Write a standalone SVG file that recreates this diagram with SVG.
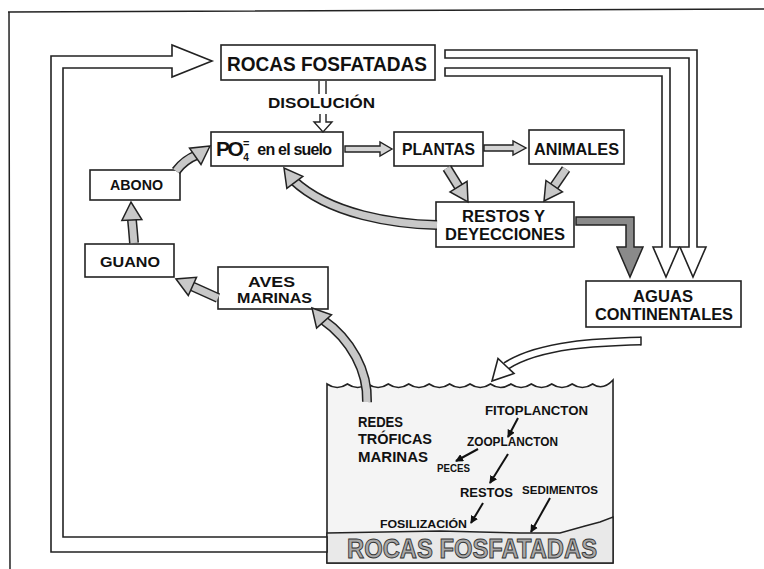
<svg xmlns="http://www.w3.org/2000/svg" width="764" height="569" viewBox="0 0 764 569">
<defs>
<style>
.box{fill:#fff;stroke:#222;stroke-width:1.6}
.t{font-family:"Liberation Sans",Arial,sans-serif;font-weight:bold;fill:#111}
.gOut{fill:none;stroke:#222;stroke-width:10}
.gIn{fill:none;stroke:#c8c8c8;stroke-width:7}
.gHead{fill:#c8c8c8;stroke:#222;stroke-width:1.5;stroke-linejoin:miter}
.hol{fill:#fff;stroke:#222;stroke-width:1.6;stroke-linejoin:miter}
.holg{fill:#d4d4d4;stroke:#222;stroke-width:1.4}
.sm{stroke:#111;stroke-width:2;fill:none;marker-end:url(#ah)}
</style>
<marker id="ah" markerUnits="userSpaceOnUse" markerWidth="8" markerHeight="8" refX="7" refY="4" orient="auto">
<polygon points="0,0 8,4 0,8" fill="#111"/>
</marker>
<polygon id="gh" points="0,0 -18,-10 -18,10"/>
</defs>
<rect width="764" height="569" fill="#fff"/>
<!-- frame -->
<path d="M8,12 L764,9 M9,12 L10,569" fill="none" stroke="#222" stroke-width="1.5"/>

<!-- ocean -->
<g id="ocean">
<path d="M327,384 q10.2,7 20.43,0 q10.2,7 20.43,0 q10.2,7 20.43,0 q10.2,7 20.43,0 q10.2,7 20.43,0 q10.2,7 20.43,0 q10.2,7 20.43,0 q10.2,7 20.43,0 q10.2,7 20.43,0 q10.2,7 20.43,0 q10.2,7 20.43,0 q10.2,7 20.43,0 q10.2,7 20.43,0 q10.2,7 20.43,-4 L613,563 L327,563 Z" fill="#f4f4f4" stroke="#222" stroke-width="1.6"/>
<path d="M327,533 L440,531 L520,533 L560,533 L585,526 L600,522 L613,517 L613,563 L327,563 Z" fill="#e9e9e9" stroke="#222" stroke-width="1.4"/>
<text class="t" x="347" y="558" font-size="28" textLength="250" lengthAdjust="spacingAndGlyphs" style="fill:#a8a8a8;stroke:#333;stroke-width:1">ROCAS FOSFATADAS</text>
<text class="t" x="358" y="427" font-size="14" textLength="45" lengthAdjust="spacingAndGlyphs">REDES</text>
<text class="t" x="358" y="444" font-size="14" textLength="74" lengthAdjust="spacingAndGlyphs">TRÓFICAS</text>
<text class="t" x="358" y="462" font-size="14" textLength="70" lengthAdjust="spacingAndGlyphs">MARINAS</text>
<text class="t" x="485" y="415" font-size="13" textLength="103" lengthAdjust="spacingAndGlyphs">FITOPLANCTON</text>
<text class="t" x="467" y="446" font-size="12" textLength="91" lengthAdjust="spacingAndGlyphs">ZOOPLANCTON</text>
<text class="t" x="437" y="472" font-size="10" textLength="33" lengthAdjust="spacingAndGlyphs">PECES</text>
<text class="t" x="460" y="497" font-size="12" textLength="53" lengthAdjust="spacingAndGlyphs">RESTOS</text>
<text class="t" x="522" y="494" font-size="11" textLength="76" lengthAdjust="spacingAndGlyphs">SEDIMENTOS</text>
<text class="t" x="380" y="528" font-size="10" textLength="87" lengthAdjust="spacingAndGlyphs">FOSILIZACIÓN</text>
</g>

<!-- nodes -->
<g id="rocas">
<rect class="box" x="221" y="45" width="214" height="35"/>
<text class="t" x="227" y="71" font-size="21" textLength="200" lengthAdjust="spacingAndGlyphs">ROCAS FOSFATADAS</text>
</g>
<g id="po4">
<rect class="box" x="211" y="132" width="132" height="34"/>
<text class="t" x="216" y="156" font-size="21" letter-spacing="-2.5">PO<tspan font-size="10" letter-spacing="0" dx="2" dy="5">4</tspan><tspan font-size="11" letter-spacing="0" dx="-6" dy="-14">=</tspan><tspan font-size="16" dx="8" dy="8" letter-spacing="-0.8">en el suelo</tspan></text>
</g>
<g id="plantas">
<rect class="box" x="394" y="132" width="89" height="34"/>
<text class="t" x="402" y="155" font-size="17" textLength="73" lengthAdjust="spacingAndGlyphs">PLANTAS</text>
</g>
<g id="animales">
<rect class="box" x="529" y="130" width="95" height="34"/>
<text class="t" x="534" y="155" font-size="17" textLength="85" lengthAdjust="spacingAndGlyphs">ANIMALES</text>
</g>
<g id="restos">
<rect class="box" x="436" y="202" width="138" height="45"/>
<text class="t" x="462" y="222" font-size="16" textLength="83" lengthAdjust="spacingAndGlyphs">RESTOS Y</text>
<text class="t" x="445" y="240" font-size="16" textLength="120" lengthAdjust="spacingAndGlyphs">DEYECCIONES</text>
</g>
<g id="aguas">
<rect class="box" x="586" y="281" width="155" height="46"/>
<text class="t" x="633" y="302" font-size="16" textLength="60" lengthAdjust="spacingAndGlyphs">AGUAS</text>
<text class="t" x="595" y="320" font-size="16" textLength="138" lengthAdjust="spacingAndGlyphs">CONTINENTALES</text>
</g>
<g id="abono">
<rect class="box" x="90" y="170" width="90" height="30"/>
<text class="t" x="110" y="190" font-size="15" textLength="53" lengthAdjust="spacingAndGlyphs">ABONO</text>
</g>
<g id="guano">
<rect class="box" x="85" y="244" width="89" height="33"/>
<text class="t" x="100" y="267" font-size="15" textLength="60" lengthAdjust="spacingAndGlyphs">GUANO</text>
</g>
<g id="aves">
<rect class="box" x="218" y="267" width="110" height="42"/>
<text class="t" x="248" y="287" font-size="15" textLength="47" lengthAdjust="spacingAndGlyphs">AVES</text>
<text class="t" x="237" y="303" font-size="15" textLength="75" lengthAdjust="spacingAndGlyphs">MARINAS</text>
</g>
<text class="t" x="268" y="108" font-size="14" textLength="107" lengthAdjust="spacingAndGlyphs">DISOLUCIÓN</text>

<!-- connectors -->
<g id="connectors">
<polygon class="hol" points="327,552 51,552 51,56 172,56 172,45 212,61 172,77 172,68 63,68 63,537 327,537"/>
<polygon class="hol" points="445,50 697,50 697,247 706,247 693,277 680,247 689,247 689,58 445,58"/>
<polygon class="hol" points="445,68 670,68 670,247 679,247 666,277 653,247 662,247 662,76 445,76"/>
<path d="M319,81 L319,94 M326,81 L326,94" fill="none" stroke="#222" stroke-width="1.4"/>
<path d="M320,114 L320,122 L314,122 L323,132 L332,122 L326,122 L326,114" fill="#fff" stroke="#222" stroke-width="1.4"/>
<polygon class="holg" points="345,146 380,146 380,142 392,149 380,156 380,152 345,152"/>
<polygon class="holg" points="484,145 513,145 513,141 526,148 513,155 513,151 484,151"/>
<polygon points="576,217 634,217 634,247 643,247 630,277 617,247 626,247 626,225 576,225" fill="#8a8a8a" stroke="#222" stroke-width="1.5"/>
<path class="gOut" d="M447,168 L460.1,189.2"/>
<path class="gIn" d="M447,168 L460.1,189.2"/>
<path class="gOut" d="M566,169 L552.5,188.6"/>
<path class="gIn" d="M566,169 L552.5,188.6"/>
<path class="gOut" d="M134,243 Q133,230 131.7,217"/>
<path class="gIn" d="M134,243 Q133,230 131.7,217"/>
<path class="gOut" d="M218,298 L189.7,285.2"/>
<path class="gIn" d="M218,298 L189.7,285.2"/>
<path class="gOut" d="M176,171 Q184,160 197.7,154.6"/>
<path class="gIn" d="M176,171 Q184,160 197.7,154.6"/>
<path class="gOut" d="M437,225 C395,224 330,215 293,180"/>
<path class="gIn" d="M437,225 C395,224 330,215 293,180"/>
<path class="gOut" d="M367,402 C368,372 352,340 322,319.1"/>
<path class="gIn" d="M367,402 C368,372 352,340 322,319.1"/>
<use href="#gh" class="gHead" transform="translate(468,202) rotate(58.3)"/>
<use href="#gh" class="gHead" transform="translate(544,201) rotate(124.5)"/>
<use href="#gh" class="gHead" transform="translate(131,202) rotate(-92.8)"/>
<use href="#gh" class="gHead" transform="translate(176,279) rotate(204.3)"/>
<use href="#gh" class="gHead" transform="translate(210,146) rotate(-35)"/>
<use href="#gh" class="gHead" transform="translate(284,168) rotate(-127)"/>
<use href="#gh" class="gHead" transform="translate(312,308) rotate(-132)"/>
<path d="M641,341 C600,342 540,344 506,366" fill="none" stroke="#222" stroke-width="9"/>
<path d="M641,341 C600,342 540,344 506,366" fill="none" stroke="#fff" stroke-width="6"/>
<path d="M641,336.5 L641,345.5" stroke="#222" stroke-width="1.5"/>
<polygon class="hol" points="492,381 498,358.5 514,373.5"/>
<path class="sm" d="M518,418 L508,437"/>
<path class="sm" d="M478,449 L456,461"/>
<path class="sm" d="M508,454 L490,483"/>
<path class="sm" d="M483,503 L471,523"/>
<path class="sm" d="M550,498 L531,532"/>
</g>
</svg>
